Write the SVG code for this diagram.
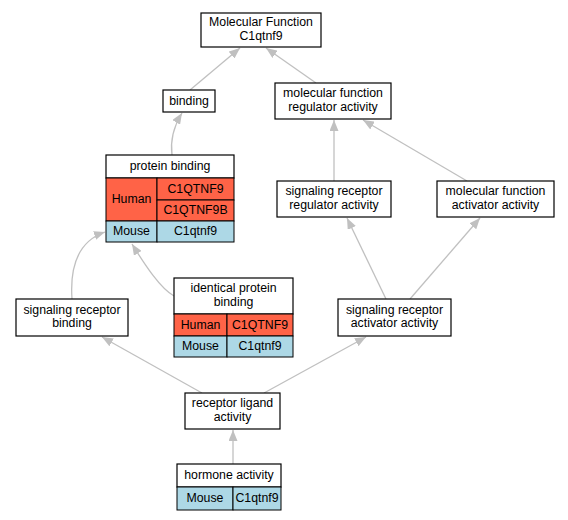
<svg xmlns="http://www.w3.org/2000/svg" width="568" height="520" viewBox="0 0 568 520">
<defs>
<style>
text{font-family:"Liberation Sans",Arial,sans-serif;font-size:12.3px;fill:#000;text-anchor:middle}
.box{fill:#fff;stroke:#000;stroke-width:1.2}
.hum{fill:#ff6347;stroke:#000;stroke-width:1}
.mou{fill:#add8e6;stroke:#000;stroke-width:1}
.e{fill:none;stroke:#c0c0c0;stroke-width:1.3}
</style>
<marker id="a" viewBox="0 0 11 9" refX="11" refY="4.5" markerWidth="11" markerHeight="9" markerUnits="userSpaceOnUse" orient="auto">
<path d="M0,0 L11,4.5 L0,9 z" fill="#c0c0c0"/>
</marker>
</defs>
<rect width="568" height="520" fill="#fff"/>
<g id="edges">
<path class="e" marker-end="url(#a)" d="M190,90 L240,48"/>
<path class="e" marker-end="url(#a)" d="M316,83 L266,48"/>
<path class="e" marker-end="url(#a)" d="M172,155 C170,140 174,126 182,113"/>
<path class="e" marker-end="url(#a)" d="M334,181 L334,120"/>
<path class="e" marker-end="url(#a)" d="M467,181 L363,120"/>
<path class="e" marker-end="url(#a)" d="M72,299 C70,270 76,242 105,232"/>
<path class="e" marker-end="url(#a)" d="M174,296 C160,288 145,265 132,244"/>
<path class="e" marker-end="url(#a)" d="M386,299 L347,218"/>
<path class="e" marker-end="url(#a)" d="M410,299 L480,218"/>
<path class="e" marker-end="url(#a)" d="M202,393 L102,337"/>
<path class="e" marker-end="url(#a)" d="M264,393 L366,337"/>
<path class="e" marker-end="url(#a)" d="M233,464 L233,430"/>
</g>
<g id="mf">
<rect class="box" x="201" y="13" width="120" height="34"/>
<text x="261" y="26">Molecular Function</text>
<text x="261" y="40">C1qtnf9</text>
</g>
<g id="binding">
<rect class="box" x="163" y="90" width="52" height="22"/>
<text x="189" y="105">binding</text>
</g>
<g id="mfra">
<rect class="box" x="275" y="83" width="116" height="36"/>
<text x="333" y="97">molecular function</text>
<text x="333" y="111">regulator activity</text>
</g>
<g id="srra">
<rect class="box" x="277" y="181" width="114" height="36"/>
<text x="334" y="195">signaling receptor</text>
<text x="334" y="209">regulator activity</text>
</g>
<g id="mfaa">
<rect class="box" x="437" y="181" width="117" height="36"/>
<text x="495.5" y="195">molecular function</text>
<text x="495.5" y="209">activator activity</text>
</g>
<g id="pb">
<rect class="box" x="106" y="155" width="128" height="23"/>
<text x="170" y="170">protein binding</text>
<rect class="hum" x="106" y="178" width="51" height="43"/>
<text x="131.5" y="203">Human</text>
<rect class="hum" x="157" y="178" width="77" height="22"/>
<text x="195.5" y="193">C1QTNF9</text>
<rect class="hum" x="157" y="200" width="77" height="21"/>
<text x="195.5" y="214">C1QTNF9B</text>
<rect class="mou" x="106" y="221" width="51" height="21"/>
<text x="131.5" y="235">Mouse</text>
<rect class="mou" x="157" y="221" width="77" height="21"/>
<text x="195.5" y="235">C1qtnf9</text>
</g>
<g id="ipb">
<rect class="box" x="174" y="278" width="119" height="36"/>
<text x="233.5" y="292">identical protein</text>
<text x="233.5" y="306">binding</text>
<rect class="hum" x="174" y="314" width="53" height="22"/>
<text x="200.5" y="329">Human</text>
<rect class="hum" x="227" y="314" width="66" height="22"/>
<text x="260" y="329">C1QTNF9</text>
<rect class="mou" x="174" y="336" width="53" height="21"/>
<text x="200.5" y="350">Mouse</text>
<rect class="mou" x="227" y="336" width="66" height="21"/>
<text x="260" y="350">C1qtnf9</text>
</g>
<g id="srb">
<rect class="box" x="16" y="299" width="112" height="37"/>
<text x="72" y="314">signaling receptor</text>
<text x="72" y="327">binding</text>
</g>
<g id="sraa">
<rect class="box" x="338" y="299" width="113" height="37"/>
<text x="394.5" y="314">signaling receptor</text>
<text x="394.5" y="327">activator activity</text>
</g>
<g id="rla">
<rect class="box" x="185" y="393" width="95" height="36"/>
<text x="232.5" y="407">receptor ligand</text>
<text x="232.5" y="421">activity</text>
</g>
<g id="ha">
<rect class="box" x="177" y="464" width="104" height="23"/>
<text x="229" y="479">hormone activity</text>
<rect class="mou" x="177" y="487" width="56" height="23"/>
<text x="205" y="502">Mouse</text>
<rect class="mou" x="233" y="487" width="48" height="23"/>
<text x="257" y="502">C1qtnf9</text>
</g>
</svg>
